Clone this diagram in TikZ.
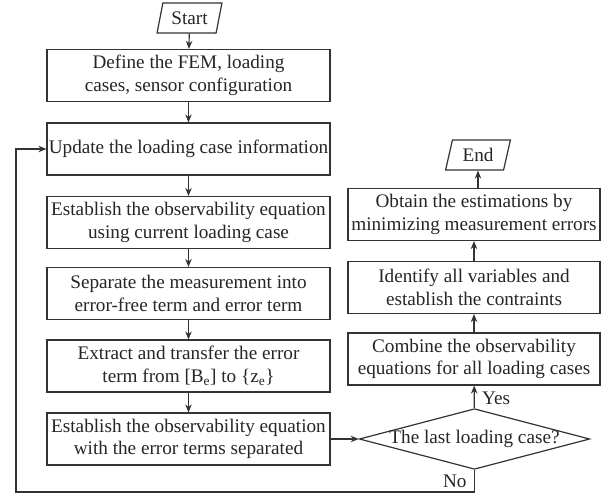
\documentclass[tikz,border=0pt]{standalone}
\usepackage{fontspec}
\setmainfont{Liberation Serif}
\usetikzlibrary{shapes.geometric,arrows.meta}

\tikzset{
  box/.style={draw=black!80, line width=1.2pt, minimum width=283pt, minimum height=52pt, align=center, inner sep=0pt},
  rbox/.style={box, minimum width=252pt},
  io/.style={draw=black!80, line width=1.2pt, trapezium, trapezium left angle=72, trapezium right angle=108,
    trapezium stretches=true, minimum width=65pt, minimum height=30pt, inner xsep=1pt, inner ysep=0pt},
  decision/.style={draw=black!80, line width=1.2pt, diamond, aspect=3.8, inner xsep=-3pt, inner ysep=0pt},
  arrow/.style={draw=black!80, line width=1.2pt, -{Stealth[length=8pt,width=6.5pt]}}
}

\begin{document}
\begin{tikzpicture}[font=\fontsize{19.2}{22.7}\selectfont, text=black!85]
      \useasboundingbox[fill=white] (0,0) rectangle (611pt,-495pt);
      % left column
      \node[io] (start) at (189.5pt,-18pt) {Start};
      \node[box] (fem) at (188.5pt,-75.5pt) {Define the FEM, loading\\cases, sensor configuration};
      \node[box] (update) at (188.5pt,-149pt) {Update the loading case information};
      \node[box] (obs) at (188.5pt,-222.5pt) {Establish the observability equation\\using current loading case};
      \node[box] (sep) at (188.5pt,-293.5pt) {Separate the measurement into\\error-free term and error term};
      \node[box] (extract) at (188.5pt,-366pt) {Extract and transfer the error\\term from [B\textsubscript{e}] to \{z\textsubscript{e}\}};
      \node[box] (obssep) at (188.5pt,-439pt) {Establish the observability equation\\with the error terms separated};
      % right column
      \node[decision] (last) at (474.5pt,-439pt) {The last loading case?};
      \node[rbox] (combine) at (474pt,-359pt) {Combine the observability\\equations for all loading cases};
      \node[rbox] (ident) at (474pt,-287.5pt) {Identify all variables and\\establish the contraints};
      \node[rbox] (estim) at (474pt,-214.5pt) {Obtain the estimations by\\minimizing measurement errors};
      \node[io] (stop) at (478pt,-155pt) {End};
      \coordinate (loop) at (16pt,-492pt);

      \draw[arrow] (start) -- (fem);
      \draw[arrow] (fem) -- (update);
      \draw[arrow] (update) -- (obs);
      \draw[arrow] (obs) -- (sep);
      \draw[arrow] (sep) -- (extract);
      \draw[arrow] (extract) -- (obssep);
      \draw[arrow] (obssep) -- (last);
      \draw[arrow] (last) -- node[right, pos=0.45, xshift=4pt] {Yes} (combine);
      \draw[arrow] (combine) -- (ident);
      \draw[arrow] (ident) -- (estim);
      \draw[arrow] (estim.north -| stop.south) -- (stop.south);
      \draw[arrow] (last.south) -- node[left, pos=0.5, xshift=-4pt] {No} (last.south |- loop) -- (loop) |- (update.west);
    \end{tikzpicture}
\end{document}
